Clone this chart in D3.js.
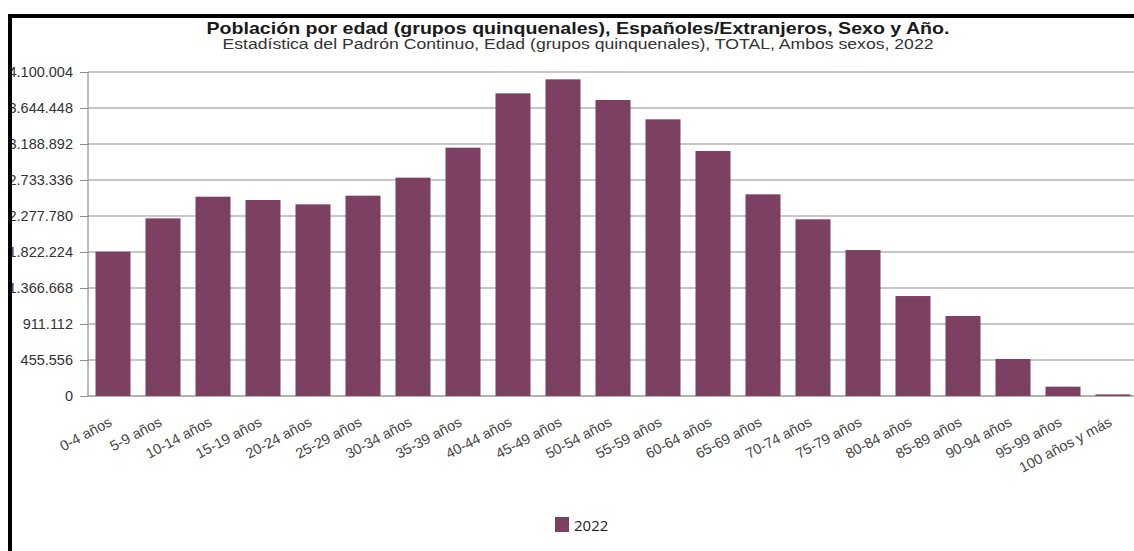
<!DOCTYPE html>
<html><head><meta charset="utf-8">
<script src="https://cdn.jsdelivr.net/npm/d3@7"></script>
<style>html,body{margin:0;padding:0;background:#fff;}svg{display:block;}</style>
</head><body>
<svg id="chart" width="1134" height="551"></svg>
<script>
const categories = ["0-4 años","5-9 años","10-14 años","15-19 años","20-24 años","25-29 años","30-34 años","35-39 años","40-44 años","45-49 años","50-54 años","55-59 años","60-64 años","65-69 años","70-74 años","75-79 años","80-84 años","85-89 años","90-94 años","95-99 años","100 años y más"];
const values2022 = [1826000,2248000,2522000,2480000,2425000,2535000,2763000,3142000,3830000,4007000,3746000,3501000,3100000,2552000,2236000,1847000,1265000,1012000,468000,118000,20000];
const yTicks = [0,455556,911112,1366668,1822224,2277780,2733336,3188892,3644448,4100004];
const seriesName = "2022";
const titleText = "Población por edad (grupos quinquenales), Españoles/Extranjeros, Sexo y Año.";
const subtitleText = "Estadística del Padrón Continuo, Edad (grupos quinquenales), TOTAL, Ambos sexos, 2022";

const svg = d3.select("#chart");
const pLeft = 88, pRight = 1138, pTop = 72, pBottom = 396;
const x = d3.scaleBand().domain(categories).range([pLeft, pRight]).paddingInner(0.3).paddingOuter(0.15);
const y = d3.scaleLinear().domain([0, 4100004]).range([pBottom, pTop]);
const fmt = d => d3.format(",")(d).replace(/,/g, ".");
const FONT = "Liberation Sans, Arial, sans-serif";

// gridlines
svg.append("g").selectAll("line").data(yTicks).join("line")
  .attr("x1", pLeft).attr("x2", pRight)
  .attr("y1", d => y(d)).attr("y2", d => y(d))
  .attr("stroke", d => d === 0 ? "#666" : "#8f8f8f").attr("stroke-width", 1.2);

// y axis
const yAxis = svg.append("g").attr("transform", `translate(${pLeft},0)`)
  .call(d3.axisLeft(y).tickValues(yTicks).tickFormat(fmt).tickSize(8).tickPadding(7));
yAxis.select(".domain").attr("stroke", "#8f8f8f").attr("stroke-width", 1.2).attr("d", `M0,${pTop}V${pBottom}`);
yAxis.selectAll(".tick line").attr("stroke", "#8f8f8f");
yAxis.selectAll("text").attr("fill", "#333").style("font-family", FONT).style("font-size", "14.5px");

// bars
svg.append("g").selectAll("rect").data(values2022).join("rect")
  .attr("x", (d, i) => x(categories[i]))
  .attr("width", x.bandwidth())
  .attr("y", d => y(d))
  .attr("height", d => pBottom - y(d))
  .attr("fill", "#7b4062");

// x labels
svg.append("g").selectAll("text").data(categories).join("text")
  .attr("transform", d => `translate(${x(d) + x.bandwidth() / 2},${pBottom + 29}) rotate(-28)`)
  .attr("text-anchor", "end")
  .attr("fill", "#444")
  .style("font-family", FONT).style("font-size", "14.5px")
  .text(d => d);

// title
svg.append("text").attr("x", 578).attr("y", 34).attr("text-anchor", "middle")
  .attr("textLength", 743).attr("lengthAdjust", "spacingAndGlyphs")
  .style("font-family", FONT).style("font-size", "16.5px").style("font-weight", "bold")
  .attr("fill", "#1a1a1a").text(titleText);
svg.append("text").attr("x", 578).attr("y", 49).attr("text-anchor", "middle")
  .attr("textLength", 711).attr("lengthAdjust", "spacingAndGlyphs")
  .style("font-family", FONT).style("font-size", "14px")
  .attr("fill", "#333").text(subtitleText);

// legend
const lg = svg.append("g");
lg.append("rect").attr("x", 555).attr("y", 517).attr("width", 14).attr("height", 15).attr("fill", "#7b4062");
lg.append("text").attr("x", 574).attr("y", 531)
  .style("font-family", "Open Sans, sans-serif").style("font-size", "15px").attr("fill", "#222").text(seriesName);

// frame border (left and top)
svg.append("path").attr("d", "M10,551V16H1134").attr("fill", "none").attr("stroke", "#000").attr("stroke-width", 4);
</script>
</body></html>
